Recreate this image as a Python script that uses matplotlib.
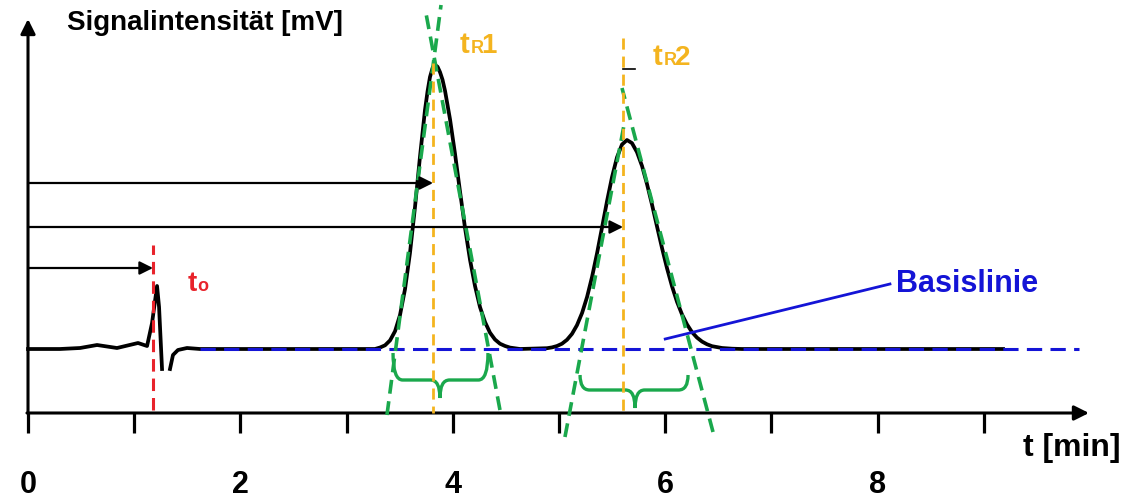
import matplotlib
matplotlib.use("Agg")
import matplotlib.pyplot as plt
from matplotlib.path import Path
from matplotlib.patches import PathPatch

plt.rcParams["font.family"] = ["Liberation Sans", "DejaVu Sans"]
plt.rcParams["font.weight"] = "bold"
plt.rcParams["lines.scale_dashes"] = False

# chromatogram trace (time in min, signal in mV)
trace1_t = [0.0, 0.301, 0.490, 0.650, 0.838, 1.036, 1.121, 1.168, 1.215, 1.234, 1.262]
trace1_mv = [6.40, 6.40, 6.50, 6.80, 6.50, 7.00, 6.70, 9.00, 12.70, 10.60, 4.40]

trace2_t = [1.337, 1.365, 1.412, 1.497, 1.620,
            3.267, 3.315, 3.362, 3.409, 3.456, 3.503, 3.550, 3.597, 3.644, 3.691, 3.738,
            3.762, 3.785, 3.809, 3.832, 3.856, 3.879, 3.903, 3.927, 3.974, 4.021, 4.068,
            4.115, 4.162, 4.209, 4.256, 4.303, 4.350, 4.397, 4.444, 4.492, 4.539, 4.633,
            4.887, 4.934, 4.981, 5.028, 5.075, 5.122, 5.169, 5.217, 5.264, 5.311, 5.358,
            5.405, 5.452, 5.499, 5.546, 5.593, 5.640, 5.687, 5.734, 5.782, 5.829, 5.876,
            5.923, 5.970, 6.017, 6.064, 6.111, 6.158, 6.205, 6.252, 6.299, 6.347, 6.394,
            6.441, 6.535, 6.629, 6.723,
            9.181]
trace2_mv = [4.40, 5.80, 6.30, 6.50, 6.40,
             6.40, 6.55, 6.77, 7.26, 8.18, 9.81, 12.39, 16.03, 20.60, 25.65, 30.30,
             32.16, 33.60, 34.49, 34.80, 34.63, 34.10, 33.33, 32.20, 29.35, 25.90, 22.13,
             18.50, 15.32, 12.70, 10.59, 9.10, 8.03, 7.35, 6.93, 6.70, 6.54, 6.40,
             6.48, 6.56, 6.70, 6.93, 7.32, 7.91, 8.78, 10.00, 11.60, 13.61, 15.97,
             18.55, 21.18, 23.59, 25.57, 26.85, 27.30, 26.99, 26.09, 24.69, 22.87, 20.82,
             18.64, 16.49, 14.47, 12.67, 11.12, 9.86, 8.86, 8.09, 7.54, 7.14, 6.87,
             6.68, 6.50, 6.43, 6.40,
             6.40]

baseline_mv = 6.40
baseline_span = [1.62, 9.90]
t0 = 1.177
tR = [3.814, 5.603]
arrow_levels = [14.5, 23.0, 18.6]
arrow_tips = [t0, tR[0], tR[1]]

# tangent lines (t, mV) of the two peaks
tangents = [
    ([3.380, 3.889], [-0.2, 40.8]),
    ([4.444, 3.738], [0.3, 40.5]),
    ([5.056, 5.621], [-2.4, 29.3]),
    ([6.450, 5.593], [-1.9, 32.5]),
]
# peak width braces: left, right, centre, tip level, bar level, point level
braces = [
    (3.437, 4.331, 3.879, 6.0, 3.3, 1.5),
    (5.198, 6.215, 5.716, 3.8, 2.3, 0.5),
]

tick_minutes = list(range(10))
tick_labels = ["0", "2", "4", "6", "8"]

black = "#000000"
red = "#e8232b"
orange = "#f4b41f"
green = "#1aa84c"
blue = "#1414d6"

fig = plt.figure(figsize=(11.34, 5.0), dpi=100)
ax = fig.add_axes([0, 0, 1, 1])
ax.set_xlim(-0.2637, 10.414)
ax.set_ylim(-8.7, 41.3)
ax.axis("off")

# axes with arrows
ax.annotate("", xy=(0, 39.4), xytext=(0, 0),
            arrowprops=dict(arrowstyle="-|>", lw=2.2, color=black,
                            mutation_scale=22, shrinkA=0, shrinkB=0))
ax.annotate("", xy=(9.99, 0), xytext=(-0.01, 0),
            arrowprops=dict(arrowstyle="-|>", lw=2.2, color=black,
                            mutation_scale=22, shrinkA=0, shrinkB=0))
for m in tick_minutes:
    ax.plot([m, m], [0, -2.0], color=black, lw=2.3, solid_capstyle="butt")
for i, lab in enumerate(tick_labels):
    ax.text(2 * i, -7.2, lab, ha="center", va="center", fontsize=22, fontweight="bold")

ax.text(0.367, 39.0, "Signalintensität [mV]", ha="left", va="center",
        fontsize=20, fontweight="bold")
ax.text(9.831, -3.5, "t [min]", ha="center", va="center", fontsize=23, fontweight="bold")

# baseline and label
ax.plot(baseline_span, [baseline_mv, baseline_mv], color=blue, lw=2.2, dashes=(11, 6), zorder=4)
ax.plot([6.0, 8.116], [7.4, 12.9], color=blue, lw=2.0, zorder=4)
ax.text(8.17, 12.9, "Basislinie", ha="left", va="center", fontsize=22,
        fontweight="bold", color=blue)

# trace
ax.plot(trace1_t, trace1_mv, color=black, lw=2.7, solid_joinstyle="round", zorder=3)
ax.plot(trace2_t, trace2_mv, color=black, lw=2.7, solid_joinstyle="round", zorder=3)

# horizontal arrows
for lvl, tip in zip(arrow_levels, arrow_tips):
    ax.annotate("", xy=(tip, lvl), xytext=(0, lvl),
                arrowprops=dict(arrowstyle="-|>", lw=1.6, color=black,
                                mutation_scale=20, shrinkA=0, shrinkB=0), zorder=6)

# dead time marker
ax.plot([t0, t0], [0.3, 16.8], color=red, lw=2.2, dashes=(9, 5), zorder=5)
ax.text(1.507, 12.2, "t", color=red, fontsize=20, fontweight="bold", va="baseline")
ax.text(1.598, 12.2, "o", color=red, fontsize=13, fontweight="bold", va="baseline")

# retention time markers
ax.plot([tR[0], tR[0]], [35.0, 0.0], color=orange, lw=2.0, dashes=(8, 5), zorder=5)
ax.plot([tR[1], tR[1]], [37.5, -0.3], color=orange, lw=2.0, dashes=(8, 5), zorder=5)
for tx, base, num in [(4.068, 36.0, "1"), (5.885, 34.8, "2")]:
    ax.text(tx, base, "t", color=orange, fontsize=21, fontweight="bold", va="baseline")
    ax.text(tx + 0.098, base, "R", color=orange, fontsize=13, fontweight="bold", va="baseline")
    ax.text(tx + 0.203, base, num, color=orange, fontsize=20, fontweight="bold", va="baseline")
ax.plot([5.603, 5.716], [34.4, 34.4], color=black, lw=1.2, zorder=5)

# tangents
for xs, ys in tangents:
    ax.plot(xs, ys, color=green, lw=2.6, dashes=(10, 5.5), zorder=4)

# braces
for xl, xr, xc, ytip, ybar, ypt in braces:
    r = 0.09
    verts = [(xl, ytip), (xl, ybar), (xl + r, ybar), (xc - r, ybar),
             (xc, ybar), (xc, ypt), (xc, ybar), (xc + r, ybar),
             (xr - r, ybar), (xr, ybar), (xr, ytip)]
    codes = [Path.MOVETO, Path.CURVE3, Path.CURVE3, Path.LINETO,
             Path.CURVE3, Path.CURVE3, Path.CURVE3, Path.CURVE3,
             Path.LINETO, Path.CURVE3, Path.CURVE3]
    ax.add_patch(PathPatch(Path(verts, codes), fill=False, edgecolor=green, lw=2.4, zorder=4))

fig.savefig("out.png", dpi=100)
